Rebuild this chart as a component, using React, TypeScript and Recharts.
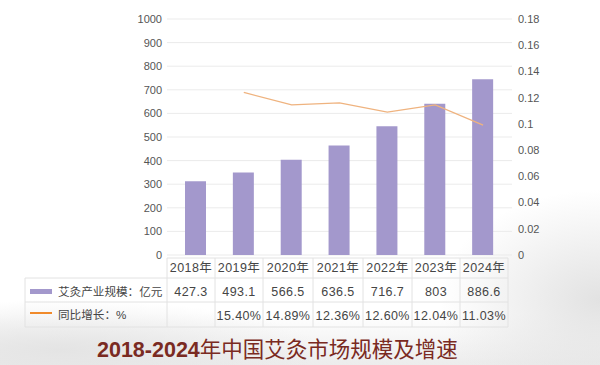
import { Bar, CartesianGrid, ComposedChart, Line, XAxis, YAxis } from 'recharts';

// 年份与数值（柱高、折线按图上读取）
const years = ['2018年', '2019年', '2020年', '2021年', '2022年', '2023年', '2024年'];
const scaleBars = [312, 350, 404, 464, 546, 641, 745];
const growthLine = [null, 0.124, 0.1145, 0.116, 0.109, 0.1145, 0.099];

// 表格文字
const scaleLabels = ['427.3', '493.1', '566.5', '636.5', '716.7', '803', '886.6'];
const growthLabels = ['', '15.40%', '14.89%', '12.36%', '12.60%', '12.04%', '11.03%'];

const leftTicks = [0, 100, 200, 300, 400, 500, 600, 700, 800, 900, 1000];
const rightTicks = [0, 0.02, 0.04, 0.06, 0.08, 0.1, 0.12, 0.14, 0.16, 0.18];

const data = years.map((year, i) => ({
  year,
  scale: scaleBars[i],
  growth: growthLine[i],
}));

const colBounds = [167, 215, 263, 313, 363, 412, 460, 508];
const BORDER = '#e2e2e2';
const TEXT = '#454545';
const latin = '"Liberation Sans", Arial, "Noto Sans CJK SC", sans-serif';

const DataTable = () => (
  <svg width={600} height={365} style={{ position: 'absolute', left: 0, top: 0 }}>
    {/* 横线 */}
    <line x1={167} x2={508} y1={258} y2={258} stroke={BORDER} />
    <line x1={25} x2={508} y1={278} y2={278} stroke={BORDER} />
    <line x1={25} x2={508} y1={302} y2={302} stroke={BORDER} />
    <line x1={25} x2={508} y1={327} y2={327} stroke={BORDER} />
    {/* 竖线 */}
    <line x1={25} x2={25} y1={278} y2={327} stroke={BORDER} />
    {colBounds.map((x) => (
      <line key={x} x1={x} x2={x} y1={258} y2={327} stroke={BORDER} />
    ))}
    {years.map((y, i) => {
      const cx = (colBounds[i] + colBounds[i + 1]) / 2;
      return (
        <g key={y} fontFamily={latin} fontSize={12.5} fill={TEXT} textAnchor="middle" letterSpacing={0.4}>
          <text x={cx} y={272}>{y}</text>
          <text x={cx} y={296}>{scaleLabels[i]}</text>
          <text x={cx} y={320}>{growthLabels[i]}</text>
        </g>
      );
    })}
    <rect x={30} y={289} width={22} height={5} fill="#a398cc" />
    <text x={58} y={296} fontFamily={latin} fontSize={11.6} fill={TEXT}>艾灸产业规模：亿元</text>
    <line x1={30} x2={52} y1={313} y2={313} stroke="#f08a2a" strokeWidth={2} />
    <text x={58} y={319} fontFamily={latin} fontSize={11.6} fill={TEXT}>同比增长：%</text>
  </svg>
);

export default function App() {
  return (
    <div
      style={{
        position: 'fixed',
        left: 0,
        top: 0,
        width: 600,
        height: 365,
        overflow: 'hidden',
        background:
          'radial-gradient(ellipse 160px 110px at 600px 300px, #e2e2e2 0%, rgba(255,255,255,0) 100%),' +
          'radial-gradient(ellipse 260px 50px at 60px 350px, #e4e4e4 0%, rgba(255,255,255,0) 100%),' +
          'linear-gradient(180deg, #ffffff 0%, #ffffff 86%, #ececec 100%)',
      }}
    >
      <ComposedChart
        width={600}
        height={262}
        data={data}
        margin={{ top: 19, right: 28, bottom: 7, left: 0 }}
        style={{ position: 'absolute', left: 0, top: 0 }}
      >
        <CartesianGrid yAxisId="left" vertical={false} stroke="#ebebeb" />
        <XAxis dataKey="year" hide padding={{ left: 5, right: 5 }} />
        <YAxis
          yAxisId="left"
          width={167}
          domain={[0, 1000]}
          ticks={leftTicks}
          interval={0}
          axisLine={false}
          tickLine={false}
          tickSize={0}
          tickMargin={5}
          tick={{ fill: '#555', fontSize: 11, fontFamily: latin }}
        />
        <YAxis
          yAxisId="right"
          orientation="right"
          width={60}
          domain={[0, 0.18]}
          ticks={rightTicks}
          interval={0}
          axisLine={false}
          tickLine={false}
          tickSize={0}
          tickMargin={6}
          tick={{ fill: '#555', fontSize: 11, fontFamily: latin }}
        />
        <Bar yAxisId="left" dataKey="scale" fill="#a398cc" barSize={21} isAnimationActive={false} />
        <Line
          yAxisId="right"
          dataKey="growth"
          stroke="#efb37f"
          strokeWidth={1.3}
          dot={false}
          type="linear"
          isAnimationActive={false}
        />
      </ComposedChart>
      <DataTable />
      <div
        style={{
          position: 'absolute',
          left: 97,
          top: 336,
          fontSize: 21.5,
          lineHeight: '24px',
          color: '#7a2a22',
          fontFamily: '"Liberation Sans", Arial, "Noto Sans CJK SC", sans-serif',
          whiteSpace: 'nowrap',
        }}
      >
        <span style={{ fontWeight: 'bold' }}>2018-2024</span>
        <span style={{ fontFamily: '"Noto Sans CJK SC", sans-serif' }}>年中国艾灸市场规模及增速</span>
      </div>
    </div>
  );
}
